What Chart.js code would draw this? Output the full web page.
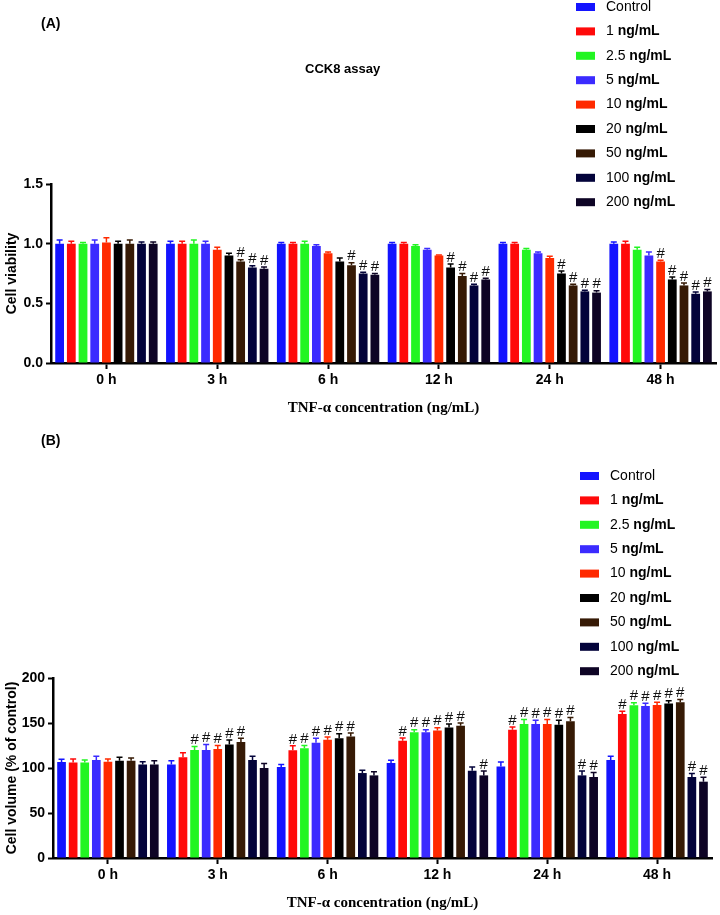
<!DOCTYPE html>
<html>
<head>
<meta charset="utf-8">
<script src="https://cdn.jsdelivr.net/npm/chart.js@4.4.0/dist/chart.umd.min.js"></script>
<style>
  body { margin: 0; background: #fff; }
  #wrap { position: relative; width: 720px; height: 915px; font-family: Arial, 'Liberation Sans', sans-serif; }
  .panel { position: absolute; left: 0; width: 720px; }
  .tag { position: absolute; font-weight: bold; font-size: 14px; color: #000; }
</style>
</head>
<body>
<div id="wrap">
  <div class="panel" style="top:0;height:430px"><canvas id="chartA"></canvas></div>
  <div class="panel" style="top:430px;height:485px"><canvas id="chartB"></canvas></div>
  <div class="tag" style="left:41px;top:15px">(A)</div>
  <div class="tag" style="left:305px;top:61px;font-size:13px">CCK8 assay</div>
  <div class="tag" style="left:41px;top:432px">(B)</div>
</div>
<script>
'use strict';

// time points on the x axis
var times = ['0 h', '3 h', '6 h', '12 h', '24 h', '48 h'];

// TNF-a doses, one series each
var doses = ['Control', '1 ng/mL', '2.5 ng/mL', '5 ng/mL', '10 ng/mL', '20 ng/mL', '50 ng/mL', '100 ng/mL', '200 ng/mL'];
var doseColors = ['#1414ff', '#ff0a0a', '#22f522', '#3b2bff', '#ff2a00', '#000000', '#361a05', '#03033a', '#0e0425'];

// (A) CCK8 cell viability, one row per dose, one value per time point
var viability = [
  [1.00, 1.00, 1.00, 1.00, 1.00, 1.00],
  [1.00, 1.00, 1.00, 1.00, 1.00, 1.00],
  [1.00, 1.00, 1.00, 0.98, 0.95, 0.95],
  [1.00, 1.00, 0.98, 0.95, 0.92, 0.90],
  [1.01, 0.95, 0.92, 0.90, 0.88, 0.85],
  [1.00, 0.90, 0.85, 0.80, 0.75, 0.70],
  [1.00, 0.85, 0.82, 0.73, 0.65, 0.65],
  [1.00, 0.80, 0.75, 0.65, 0.60, 0.58],
  [1.00, 0.79, 0.74, 0.70, 0.59, 0.60]
];
var viabilityErr = [
  [0.03, 0.02, 0.01, 0.01, 0.01, 0.015],
  [0.02, 0.02, 0.01, 0.01, 0.01, 0.02],
  [0.01, 0.03, 0.02, 0.01, 0.01, 0.02],
  [0.03, 0.02, 0.01, 0.01, 0.01, 0.03],
  [0.04, 0.02, 0.01, 0.005, 0.015, 0.01],
  [0.02, 0.02, 0.03, 0.03, 0.02, 0.02],
  [0.03, 0.015, 0.02, 0.02, 0.01, 0.02],
  [0.015, 0.015, 0.01, 0.01, 0.01, 0.015],
  [0.015, 0.015, 0.01, 0.01, 0.015, 0.015]
];
// 1 = marked with # (significant vs control)
var viabilityHash = [
  [0, 0, 0, 0, 0, 0],
  [0, 0, 0, 0, 0, 0],
  [0, 0, 0, 0, 0, 0],
  [0, 0, 0, 0, 0, 0],
  [0, 0, 0, 0, 0, 1],
  [0, 0, 0, 1, 1, 1],
  [0, 1, 1, 1, 1, 1],
  [0, 1, 1, 1, 1, 1],
  [0, 1, 1, 1, 1, 1]
];

// (B) cell volume, % of control
var volume = [
  [106.7, 104, 101, 105.5, 101.8, 109],
  [106, 112, 119.6, 130.3, 142.6, 160],
  [106, 120, 122, 139.6, 149, 169.6],
  [109, 120, 128, 139.6, 149, 169],
  [107, 121, 131.5, 141.8, 149, 170],
  [108, 126, 133, 145, 148, 171.8],
  [108, 129, 135, 147, 152, 173],
  [104, 109, 94.4, 97, 91.8, 90],
  [104, 100, 91.8, 91.8, 90, 84.8]
];
var volumeErr = [
  [3, 4, 3, 3, 5, 4],
  [4, 5, 5, 3, 3, 3],
  [3, 4, 3, 3, 5, 3],
  [4, 6, 5, 3, 4, 3],
  [3, 4, 3, 3, 5, 3],
  [4, 5, 5, 4, 5, 3],
  [3, 4, 4, 3, 4, 3],
  [3, 4, 3, 4, 5, 4],
  [4, 5, 4, 5, 5, 5]
];
var volumeHash = [
  [0, 0, 0, 0, 0, 0],
  [0, 0, 1, 1, 1, 1],
  [0, 1, 1, 1, 1, 1],
  [0, 1, 1, 1, 1, 1],
  [0, 1, 1, 1, 1, 1],
  [0, 1, 1, 1, 1, 1],
  [0, 1, 1, 1, 1, 1],
  [0, 0, 0, 0, 1, 1],
  [0, 0, 0, 1, 1, 1]
];

Chart.defaults.font.family = "Arial, 'Liberation Sans', sans-serif";
Chart.defaults.color = '#000';

// error bars, # marks and the legend drawn on the canvas
function extrasPlugin(errors, hashes, legendX, legendY) {
  return {
    id: 'extras',
    afterDatasetsDraw: function(chart) {
      var ctx = chart.ctx;
      var y = chart.scales.y;
      chart.data.datasets.forEach(function(ds, i) {
        chart.getDatasetMeta(i).data.forEach(function(bar, j) {
          var top = y.getPixelForValue(ds.data[j] + errors[i][j]);
          ctx.save();
          ctx.strokeStyle = ds.backgroundColor;
          ctx.lineWidth = 1.5;
          ctx.beginPath();
          ctx.moveTo(bar.x, bar.y);
          ctx.lineTo(bar.x, top);
          ctx.moveTo(bar.x - 3, top);
          ctx.lineTo(bar.x + 3, top);
          ctx.stroke();
          if (hashes[i][j]) {
            ctx.fillStyle = '#111';
            ctx.font = '15px Arial, "Liberation Sans"';
            ctx.textAlign = 'center';
            ctx.textBaseline = 'bottom';
            ctx.fillText('#', bar.x, top + 1);
          }
          ctx.restore();
        });
      });
    },
    afterDraw: function(chart) {
      var ctx = chart.ctx;
      ctx.save();
      chart.data.datasets.forEach(function(ds, i) {
        var cy = legendY + i * 24.4;
        ctx.fillStyle = ds.backgroundColor;
        ctx.fillRect(legendX, cy - 4, 19, 8);
        // number in regular weight, unit in bold
        var parts = ds.label.split(' ');
        var tx = legendX + 30;
        ctx.fillStyle = '#000';
        ctx.textAlign = 'left';
        ctx.textBaseline = 'middle';
        ctx.font = '14px Arial, "Liberation Sans"';
        ctx.fillText(parts[0], tx, cy);
        if (parts[1]) {
          tx += ctx.measureText(parts[0] + ' ').width;
          ctx.font = 'bold 14px Arial, "Liberation Sans"';
          ctx.fillText(parts[1], tx, cy);
        }
      });
      ctx.restore();
    }
  };
}

function makeChart(id, values, errors, hashes, cfg) {
  var datasets = doses.map(function(d, i) {
    return {
      label: d,
      data: values[i],
      backgroundColor: doseColors[i],
      borderWidth: 0,
      categoryPercentage: 0.95,
      barPercentage: 0.75
    };
  });
  return new Chart(document.getElementById(id), {
    type: 'bar',
    data: { labels: times, datasets: datasets },
    plugins: [extrasPlugin(errors, hashes, cfg.legendX, cfg.legendY)],
    options: {
      responsive: true,
      maintainAspectRatio: false,
      animation: false,
      layout: { padding: { top: cfg.top, right: cfg.right, left: 0, bottom: 0 } },
      plugins: { legend: { display: false }, tooltip: { enabled: false } },
      scales: {
        x: {
          grid: { offset: false, drawOnChartArea: false, tickLength: 6, tickWidth: 2, color: '#000' },
          border: { color: '#000', width: 2.5 },
          ticks: { color: '#000', font: { weight: 'bold', size: 14 }, padding: 3 },
          title: {
            display: true,
            text: 'TNF-α concentration (ng/mL)',
            color: '#000',
            font: { family: "'Liberation Serif', 'Times New Roman', serif", weight: 'bold', size: 15 },
            padding: { top: 0, bottom: cfg.xTitlePad }
          },
          afterFit: function(s) { s.height = cfg.xHeight; }
        },
        y: {
          min: 0,
          max: cfg.max,
          ticks: {
            stepSize: cfg.step,
            color: '#000',
            font: { weight: 'bold', size: 14 },
            padding: 3,
            callback: cfg.tickFmt
          },
          grid: { drawOnChartArea: false, tickLength: 5, tickWidth: 2, color: '#000' },
          border: { color: '#000', width: 2.5 },
          title: { display: true, text: cfg.yTitle, color: '#000', font: { weight: 'bold', size: 14 } },
          afterFit: function(s) { s.width = cfg.yWidth; }
        }
      }
    }
  });
}

makeChart('chartA', viability, viabilityErr, viabilityHash, {
  top: 184, right: 4, xHeight: 67, xTitlePad: 13, yWidth: 51,
  max: 1.5, step: 0.5, tickFmt: function(v) { return v.toFixed(1); },
  yTitle: 'Cell viability', legendX: 576, legendY: 7
});

makeChart('chartB', volume, volumeErr, volumeHash, {
  top: 248, right: 8, xHeight: 57, xTitlePad: 3, yWidth: 53,
  max: 200, step: 50, tickFmt: function(v) { return v; },
  yTitle: 'Cell volume (% of control)', legendX: 580, legendY: 46
});
</script>
</body>
</html>
